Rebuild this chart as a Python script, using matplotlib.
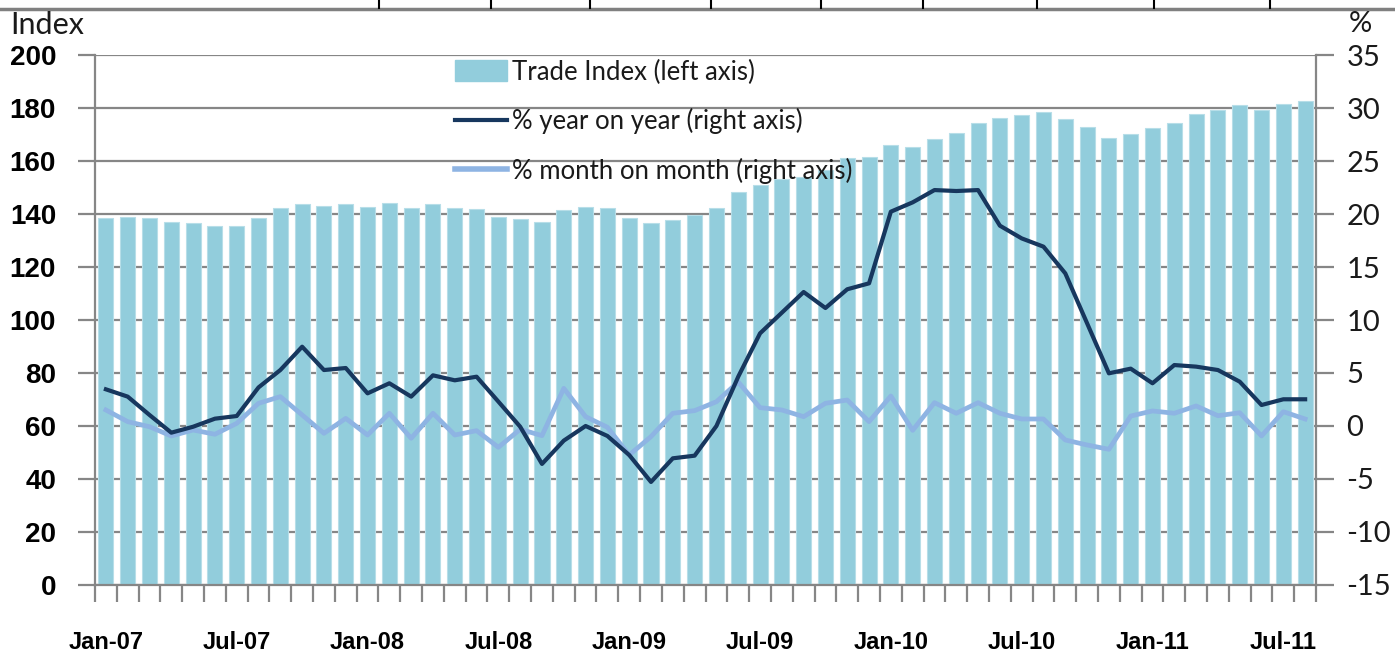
import matplotlib
matplotlib.use("Agg")
import matplotlib.pyplot as plt
import numpy as np
import pandas as pd
from matplotlib.lines import Line2D
from matplotlib.patches import Patch

plt.rcParams["axes.unicode_minus"] = False

# monthly categories Jan-07 .. Aug-11
months = pd.date_range("2007-01-01", periods=56, freq="MS")
month_labels = [m.strftime("%b-%y") for m in months]
label_every = 6

# Trade index (left axis)
trade_index = [138.4, 138.9, 138.6, 137.1, 136.7, 135.4, 135.5, 138.4, 142.3, 143.8,
               142.9, 143.9, 142.6, 144.2, 142.3, 143.8, 142.4, 141.8, 138.7, 138.1,
               136.9, 141.5, 142.6, 142.4, 138.4, 136.5, 137.9, 139.5, 142.4, 148.4,
               150.8, 153.1, 154.1, 156.6, 161.0, 161.6, 166.0, 165.2, 168.4, 170.4,
               174.2, 176.1, 177.4, 178.4, 176.0, 172.7, 168.6, 170.1, 172.3, 174.3,
               177.6, 179.1, 181.2, 179.4, 181.7, 182.7]

# % year on year (right axis)
yoy = [3.46, 2.77, 1.04, -0.63, -0.07, 0.69, 0.94, 3.64, 5.28, 7.48,
       5.28, 5.47, 3.08, 4.03, 2.77, 4.78, 4.31, 4.65, 2.3, -0.07,
       -3.58, -1.38, 0.0, -0.94, -2.74, -5.28, -3.05, -2.8, 0.0, 4.65,
       8.74, 10.69, 12.64, 11.13, 12.9, 13.46, 20.22, 21.1, 22.26, 22.17,
       22.26, 18.9, 17.7, 16.92, 14.4, 9.69, 4.97, 5.41, 4.03, 5.75,
       5.6, 5.28, 4.18, 1.98, 2.52, 2.52]

# % month on month (right axis)
mom = [1.51, 0.41, -0.07, -0.94, -0.38, -0.78, 0.25, 2.14, 2.77, 1.04,
       -0.69, 0.72, -0.85, 1.2, -1.16, 1.2, -0.85, -0.44, -2.01, -0.31,
       -0.91, 3.55, 0.88, -0.12, -2.74, -1.0, 1.2, 1.45, 2.29, 4.15,
       1.73, 1.51, 0.88, 2.14, 2.45, 0.41, 2.83, -0.41, 2.2, 1.2,
       2.2, 1.2, 0.66, 0.66, -1.32, -1.79, -2.2, 0.94, 1.42, 1.2,
       1.89, 0.97, 1.25, -0.94, 1.35, 0.66]

bar_color = "#92CDDC"
yoy_color = "#17375E"
mom_color = "#8EB4E3"
grid_color = "#868686"
text_color = "#1a1a1a"
thin_font = "Lato"
bold_font = "Liberation Sans"

x = np.arange(len(months))

fig = plt.figure(figsize=(13.95, 6.52), dpi=100)
ax = fig.add_axes([0.0681, 0.1028, 0.8753, 0.8128])

ax.bar(x, trade_index, width=0.69, color=bar_color, edgecolor="#B7DEE8",
       linewidth=0.8, zorder=2)
ax.set_xlim(-0.5, len(x) - 0.5)
ax.set_ylim(0, 200)
ax.set_yticks(range(0, 201, 20))
ax.yaxis.grid(True, color=grid_color, linewidth=1.6, zorder=0)
ax.set_axisbelow(True)
ax.tick_params(axis="y", length=12, width=1.6, color=grid_color, pad=16)
for t in ax.get_yticklabels():
    t.set_fontfamily(bold_font)
    t.set_fontweight("bold")
    t.set_fontsize(20)

# x axis: small ticks at month boundaries, labels every 6 months
ax.set_xticks(x[::label_every])
ax.set_xticklabels(month_labels[::label_every], fontfamily=bold_font,
                   fontweight="bold", fontsize=17)
ax.set_xticks(np.arange(-0.5, len(x), 1.0), minor=True)
ax.tick_params(axis="x", which="major", length=0, pad=33)
ax.tick_params(axis="x", which="minor", length=12, width=1.6, color=grid_color)

for side in ["left", "bottom"]:
    ax.spines[side].set_color(grid_color)
    ax.spines[side].set_linewidth(1.6)
ax.spines["top"].set_visible(False)
ax.spines["right"].set_visible(False)

ax2 = ax.twinx()
ax2.plot(x, yoy, color=yoy_color, linewidth=3.0, zorder=4)
ax2.plot(x, mom, color=mom_color, linewidth=3.4, zorder=3)
ax2.set_ylim(-15, 35)
ax2.set_yticks(range(-15, 36, 5))
ax2.tick_params(axis="y", length=13, width=1.6, color=grid_color, pad=9,
                labelcolor=text_color)
for t in ax2.get_yticklabels():
    t.set_fontfamily(thin_font)
    t.set_fontsize(21)
for side in ["left", "bottom", "top"]:
    ax2.spines[side].set_visible(False)
ax2.spines["right"].set_color(grid_color)
ax2.spines["right"].set_linewidth(1.6)

handles = [Patch(facecolor=bar_color, edgecolor=bar_color),
           Line2D([], [], color=yoy_color, linewidth=3),
           Line2D([], [], color=mom_color, linewidth=4)]
labels = ["Trade Index (left axis)", "% year on year (right axis)",
          "% month on month (right axis)"]
leg = ax2.legend(handles, labels, loc="upper left", bbox_to_anchor=(0.276, 1.035),
                 frameon=False, handlelength=2.0, handleheight=0.9, handletextpad=0.2,
                 labelspacing=0.92, prop={"family": thin_font, "size": 18.5})
for t in leg.get_texts():
    t.set_color(text_color)

fig.text(0.007, 1 - 25 / 652, "Index", fontfamily=thin_font, color=text_color,
         fontsize=22, va="center", ha="left")
fig.text(0.975, 1 - 24 / 652, "%", fontfamily=thin_font, color=text_color,
         fontsize=21, va="center", ha="center")

# border strip of the neighbouring table at the top edge
fig.add_artist(Line2D([0, 1], [1 - 9 / 652] * 2, transform=fig.transFigure,
                      color="#808080", linewidth=2.5))
for px in [379, 491, 590, 711, 821, 923, 1037, 1154, 1270]:
    fig.add_artist(Line2D([px / 1395] * 2, [1 - 8 / 652, 1], transform=fig.transFigure,
                          color="black", linewidth=1.5))

fig.savefig("out.png", dpi=100)
